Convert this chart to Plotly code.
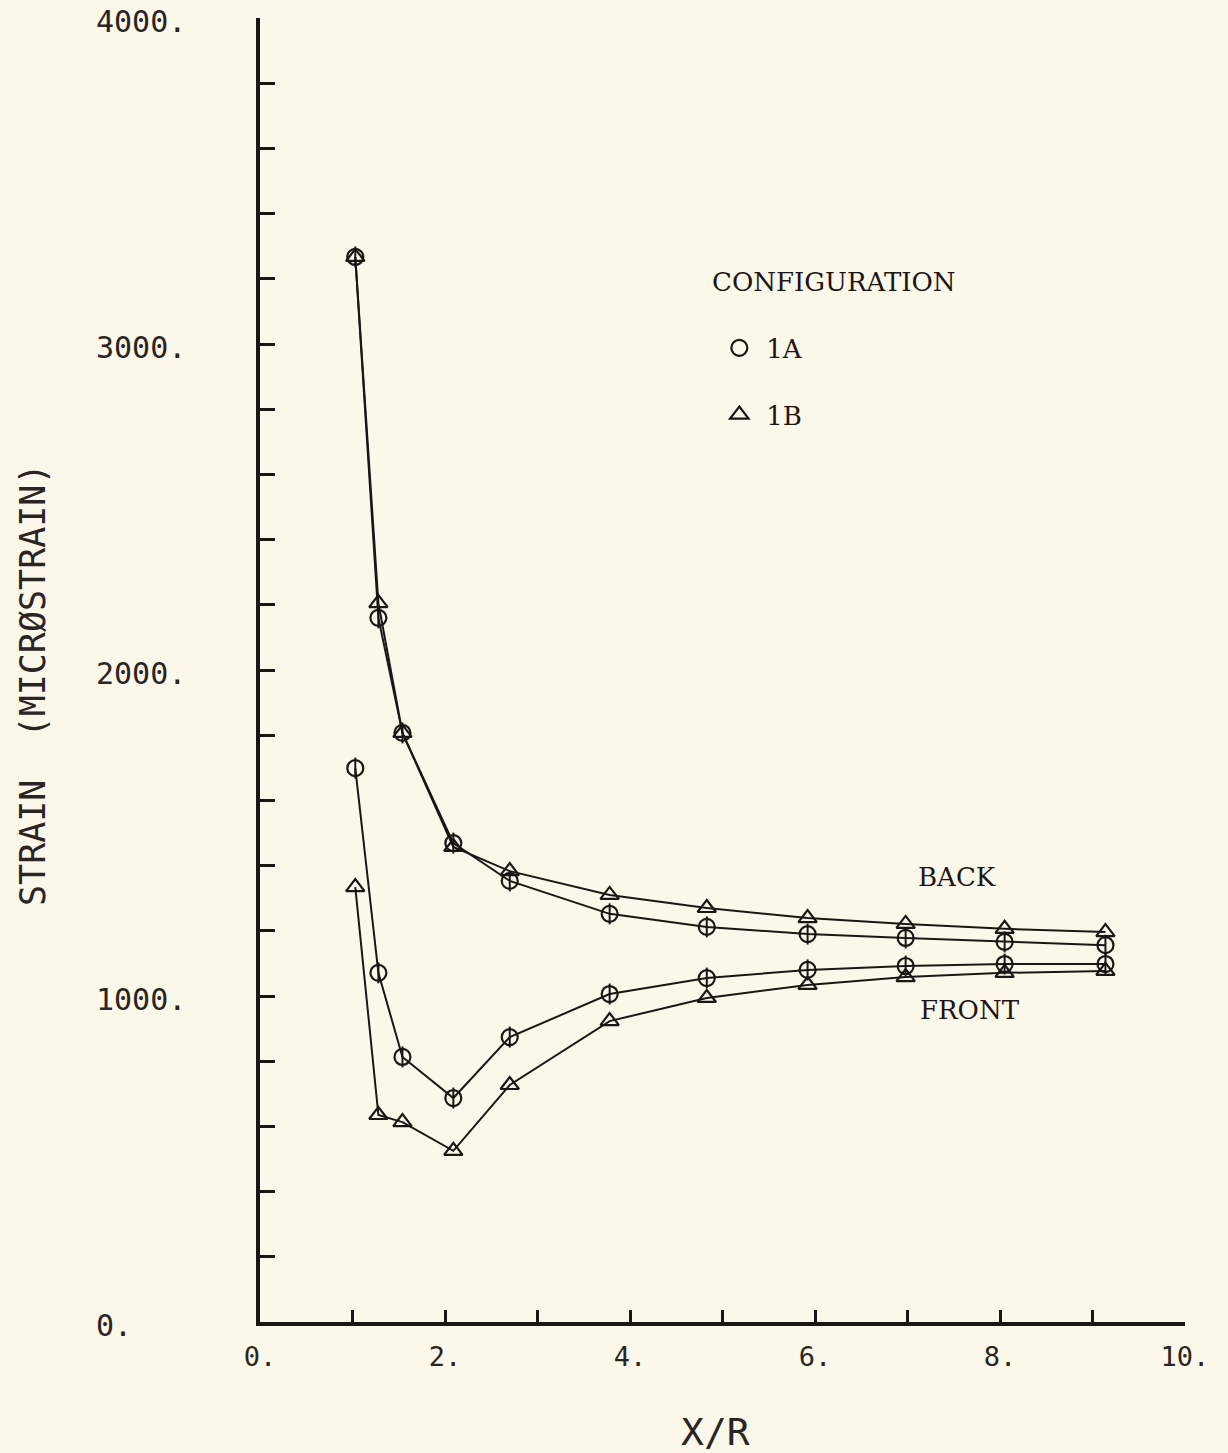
import plotly.graph_objects as go

# ---- data ----
x_pos = [1.03, 1.28, 1.54, 2.09, 2.70, 3.78, 4.83, 5.92, 6.98, 8.05, 9.14]
back_1a = [3267, 2160, 1807, 1469, 1353, 1252, 1212, 1190, 1178, 1166, 1156]
back_1b = [3267, 2205, 1807, 1457, 1383, 1310, 1270, 1239, 1221, 1206, 1196]
front_1a = [1699, 1071, 813, 687, 874, 1006, 1055, 1080, 1092, 1098, 1098]
front_1b = [1334, 635, 613, 525, 727, 923, 994, 1034, 1058, 1071, 1077]

x_tick_vals = [0, 1, 2, 3, 4, 5, 6, 7, 8, 9, 10]
x_tick_text = ["0.", "", "2.", "", "4.", "", "6.", "", "8.", "", "10."]
y_minor_vals = list(range(0, 4001, 200))
y_label_vals = [0, 1000, 2000, 3000, 4000]
y_label_text = ["0.", "1000.", "2000.", "3000.", "4000."]

INK = "#1c1515"
TXT = "#2a2424"
BG = "#fbf8ea"

fig = go.Figure()

def add_series(y, symbol, group, show_legend, bar=False):
    fig.add_trace(go.Scatter(x=x_pos, y=y, mode="lines",
                             line=dict(color=INK, width=2),
                             showlegend=False, hoverinfo="skip"))
    fig.add_trace(go.Scatter(x=x_pos, y=y, mode="markers", name=group,
                             legendgroup=group, showlegend=show_legend,
                             marker=dict(symbol=symbol, size=16, color=INK,
                                         line=dict(color=INK, width=2.2))))
    if bar:
        fig.add_trace(go.Scatter(x=x_pos, y=y, mode="markers",
                                 legendgroup=group, showlegend=False,
                                 hoverinfo="skip",
                                 marker=dict(symbol="line-ns-open", size=15,
                                             color=INK,
                                             line=dict(color=INK, width=2))))

add_series(back_1a, "circle-open", "1A", True, bar=True)
add_series(front_1a, "circle-open", "1A", False, bar=True)
add_series(back_1b, "triangle-up-open", "1B", True)
add_series(front_1b, "triangle-up-open", "1B", False)

annotations = []
for v, t in zip(y_label_vals, y_label_text):
    annotations.append(dict(x=0, xref="paper", y=v, yref="y", text=t,
                            xanchor="left", yanchor="middle", xshift=-166,
                            yshift=-3, showarrow=False,
                            font=dict(family="DejaVu Sans Mono", size=30, color=TXT)))

serif = dict(family="DejaVu Serif", size=26, color=INK)
annotations += [
    dict(x=0.4865, xref="paper", y=0.7975, yref="paper", text="CONFIGURATION",
         xanchor="left", yanchor="middle", showarrow=False, font=serif),
    dict(x=7.54, y=1365, text="BACK", showarrow=False, font=serif,
         xanchor="center", yanchor="middle"),
    dict(x=7.68, y=957, text="FRONT", showarrow=False, font=serif,
         xanchor="center", yanchor="middle"),
    dict(x=-0.2454, xref="paper", y=0.4885, yref="paper",
         text="STRAIN  (MICRØSTRAIN)", textangle=-90, showarrow=False,
         xanchor="center", yanchor="middle",
         font=dict(family="DejaVu Sans Mono", size=35, color=TXT)),
    dict(x=0.492, xref="paper", y=-0.0844, yref="paper", text="X/R",
         showarrow=False, xanchor="center", yanchor="middle",
         font=dict(family="DejaVu Sans Mono", size=38, color=TXT)),
]

fig.update_layout(
    width=1228, height=1453,
    margin=dict(l=260, r=43, t=18, b=131),
    paper_bgcolor=BG, plot_bgcolor=BG,
    annotations=annotations,
    showlegend=True,
    legend=dict(x=0.489, y=0.765, xanchor="left", yanchor="top",
                bgcolor="rgba(0,0,0,0)", borderwidth=0,
                font=dict(family="DejaVu Serif", size=26, color=INK),
                traceorder="grouped", tracegroupgap=30, itemwidth=44),
)

fig.update_xaxes(range=[0, 10], tickvals=x_tick_vals, ticktext=x_tick_text,
                 ticks="inside", ticklen=12, tickwidth=2.5, tickcolor=INK,
                 showline=True, linecolor=INK, linewidth=3.5,
                 showgrid=False, zeroline=False, ticklabelstandoff=8,
                 tickfont=dict(family="DejaVu Sans Mono", size=27, color=TXT))
fig.update_yaxes(range=[0, 4000], tickvals=y_minor_vals, showticklabels=False,
                 ticks="inside", ticklen=15, tickwidth=2.5, tickcolor=INK,
                 showline=True, linecolor=INK, linewidth=3.5,
                 showgrid=False, zeroline=False)

fig.write_html("out.html")
